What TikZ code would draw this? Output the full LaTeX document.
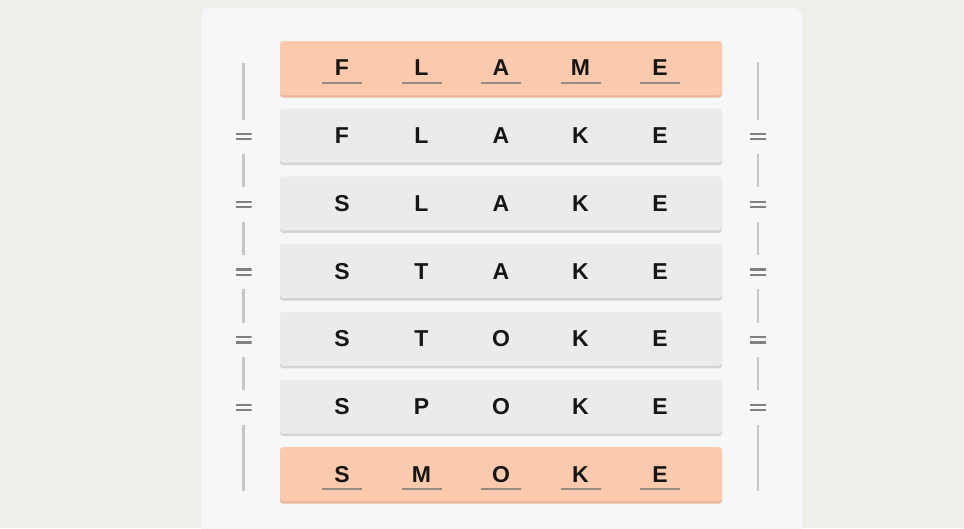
\documentclass[tikz,border=0pt]{standalone}
\usepackage{fontspec}
\setmainfont{Liberation Sans}
\definecolor{bgc}{HTML}{EFEEE8}
\definecolor{panelc}{HTML}{F5F7F9}
\definecolor{orangec}{HTML}{FDCAAE}
\definecolor{orangesh}{HTML}{EBB89C}
\definecolor{grayc}{HTML}{EBEBEB}
\definecolor{graysh}{HTML}{D3D3D3}
\definecolor{linec}{HTML}{C6C6C6}
\definecolor{eqc}{HTML}{808080}
\definecolor{ulc}{HTML}{978A82}
\definecolor{txtc}{HTML}{161616}
\tikzset{
  rowbox/.style={minimum width=442pt, minimum height=54pt, inner sep=0pt, rounded corners=3pt},
  grayrow/.style={rowbox, fill=grayc},
  orangerow/.style={rowbox, fill=orangec},
  letter/.style={font=\bfseries\fontsize{23}{23}\selectfont, text=txtc, inner sep=0pt, anchor=center},
  uline/.style={draw=ulc, line width=2pt},
  sideline/.style={draw=linec, line width=2.2pt},
  eqsign/.style={minimum width=16pt, minimum height=34pt, inner sep=0pt,
    path picture={
      \draw[eqc,line width=2.2pt] ([xshift=-8pt,yshift=2.6pt]path picture bounding box.center) -- ++(16pt,0);
      \draw[eqc,line width=2.2pt] ([xshift=-8pt,yshift=-2.6pt]path picture bounding box.center) -- ++(16pt,0);
    }},
}
\begin{document}
\begin{tikzpicture}[x=1pt,y=-1pt]
\useasboundingbox (0,0) rectangle (964,528);
\clip (0,0) rectangle (964,528);
\fill[bgc] (0,0) rectangle (964,528);
\fill[panelc, rounded corners=8pt] (201,8) rectangle (802,560);

% rows
\foreach \i/\sty in {1/orangerow,2/grayrow,3/grayrow,4/grayrow,5/grayrow,6/grayrow,7/orangerow}{
  \pgfmathsetmacro{\yc}{41+27+67.7*(\i-1)}
  \ifnum\i=1 \def\shc{orangesh}\else\ifnum\i=7 \def\shc{orangesh}\else\def\shc{graysh}\fi\fi
  \fill[\shc, rounded corners=3pt] (280,\yc-25) rectangle (722,\yc+29.5);
  \node[\sty] (r\i) at (501,\yc) {};
}

% letters
\foreach \i/\ca/\cb/\cc/\cd/\ce in {1/F/L/A/M/E,2/F/L/A/K/E,3/S/L/A/K/E,4/S/T/A/K/E,5/S/T/O/K/E,6/S/P/O/K/E,7/S/M/O/K/E}{
  \node[letter] (l\i a) at (342,{41+27+67.7*(\i-1)}) {\ca};
  \node[letter] (l\i b) at (421.5,{41+27+67.7*(\i-1)}) {\cb};
  \node[letter] (l\i c) at (501,{41+27+67.7*(\i-1)}) {\cc};
  \node[letter] (l\i d) at (580.5,{41+27+67.7*(\i-1)}) {\cd};
  \node[letter] (l\i e) at (660,{41+27+67.7*(\i-1)}) {\ce};
}

% underlines on first and last rows
\foreach \i in {1,7}{
  \foreach \c in {a,b,c,d,e}{
    \draw[uline] ([xshift=-20pt,yshift=-14.5pt]l\i\c.center) -- ([xshift=20pt,yshift=-14.5pt]l\i\c.center);
  }
}

% side columns
\coordinate (tL) at (243.5,63);
\coordinate (bL) at (243.5,491);
\coordinate (tR) at (758,62);
\coordinate (bR) at (758,491);
\foreach \i in {2,...,6}{
  \node[eqsign] (eL\i) at (243.5,{41+27+67.7*(\i-1)+1}) {};
  \node[eqsign] (eR\i) at (758,{41+27+67.7*(\i-1)+1}) {};
}
\draw[sideline] (tL) -- (eL2.north);
\draw[sideline] (eL2.south) -- (eL3.north);
\draw[sideline] (eL3.south) -- (eL4.north);
\draw[sideline] (eL4.south) -- (eL5.north);
\draw[sideline] (eL5.south) -- (eL6.north);
\draw[sideline] (eL6.south) -- (bL);
\draw[sideline] (tR) -- (eR2.north);
\draw[sideline] (eR2.south) -- (eR3.north);
\draw[sideline] (eR3.south) -- (eR4.north);
\draw[sideline] (eR4.south) -- (eR5.north);
\draw[sideline] (eR5.south) -- (eR6.north);
\draw[sideline] (eR6.south) -- (bR);
\end{tikzpicture}
\end{document}
